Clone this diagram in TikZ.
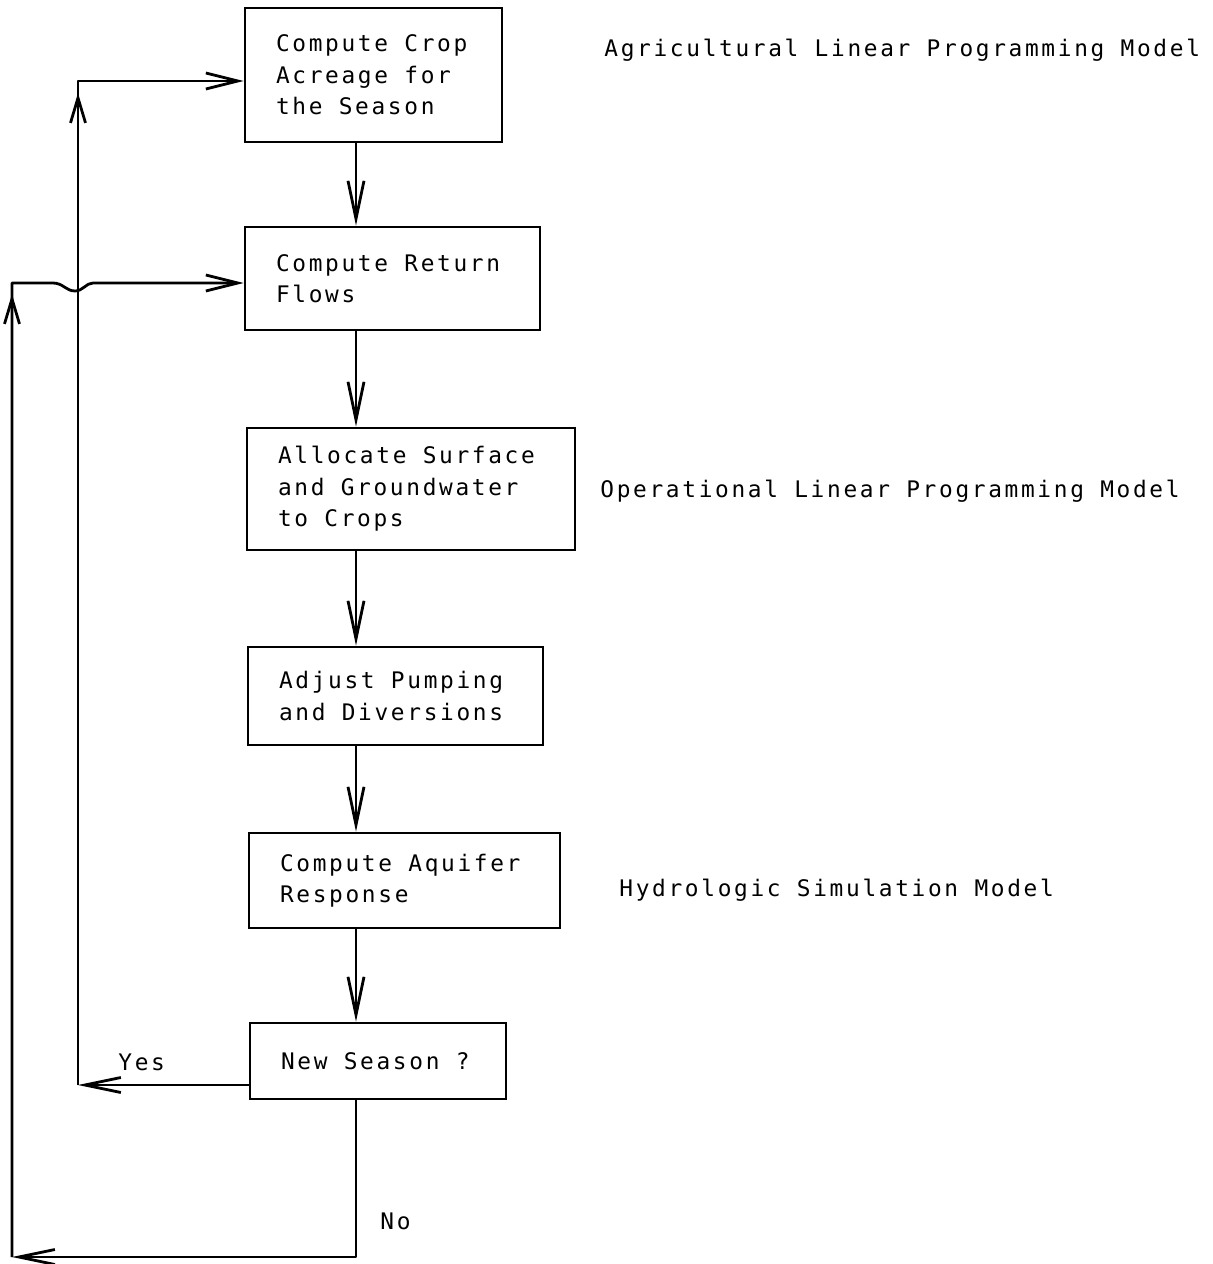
\documentclass[tikz,border=0pt]{standalone}
\usepackage{fontspec}
\newfontfamily\typefont[LetterSpace=11.7,WordSpace=1.19]{DejaVu Sans Mono}
\usetikzlibrary{arrows.meta,calc}
% typewriter face with rigid one-cell word spaces
\newcommand\flowfont{\typefont\fontsize{11.4pt}{15.75pt}\selectfont}
\newskip\flowspace
\flowspace=8.15pt

\begin{document}
% one unit = one pixel of the 1213 x 1264 sheet, y growing downwards
\begin{tikzpicture}[x=0.5pt,y=-0.5pt,
  txt/.style={font=\flowfont, execute at begin node={\spaceskip=\flowspace}},
  stage/.style={txt, draw, line width=1.4pt, inner xsep=15.5pt, inner ysep=0pt,
                align=left, anchor=center},
  note/.style={txt, inner sep=0pt, anchor=base west},
  flow/.style={line width=1.4pt, line join=round},
  downtip/.style={-{Straight Barb[length=19pt,width=8pt]}},
  intotip/.style={-{Straight Barb[length=16pt,width=8pt]}},
  backtip/.style={-{Straight Barb[length=18pt,width=7.5pt]}},
  uptip/.style={-{Straight Barb[length=12.5pt,width=7.5pt]}}]

\useasboundingbox (0,0) rectangle (1213,1264);

% process boxes
\node[stage, text width=97.5pt,  minimum height=67pt]   (crop)   at (373.5,75)
  {Compute Crop\\Acreage for\\the Season};
\node[stage, text width=116.5pt, minimum height=51.5pt] (ret)    at (392.5,278.5)
  {Compute Return\\Flows};
\node[stage, text width=133pt,   minimum height=61pt]   (alloc)  at (411,489)
  {Allocate Surface\\and Groundwater\\to Crops};
\node[stage, text width=116.5pt, minimum height=49pt]   (pump)   at (395.5,696)
  {Adjust Pumping\\and Diversions};
\node[stage, text width=124.5pt, minimum height=47.5pt] (aquif)  at (404.5,880.5)
  {Compute Aquifer\\Response};
\node[stage, text width=97pt,    minimum height=38pt]   (season) at (378,1061)
  {New Season ?};

% model names at the right
\node[note] (agri) at (604,56)  {Agricultural Linear Programming Model};
\node[note] (oper) at (600,497) {Operational Linear Programming Model};
\node[note] (hydro) at (619,896) {Hydrologic Simulation Model};

% branch labels
\node[note] (yes) at (118,1070) {Yes};
\node[note] (no)  at (380,1229) {No};

% routing points
\coordinate (spine)     at (356,0);
\coordinate (yescorner) at (78,1085);
\coordinate (topcorner) at (78,81);
\coordinate (nobottom)  at (356,1257);
\coordinate (outcorner) at (12,1257);
\coordinate (retcorner) at (12,283);
\coordinate (hopL)      at (53,283);
\coordinate (hopM)      at (75,291);
\coordinate (hopR)      at (93,283);

% main sequence
\draw[flow,downtip] (crop.south -| spine)  -- (ret.north -| spine);
\draw[flow,downtip] (ret.south -| spine)   -- (alloc.north -| spine);
\draw[flow,downtip] (alloc.south -| spine) -- (pump.north -| spine);
\draw[flow,downtip] (pump.south -| spine)  -- (aquif.north -| spine);
\draw[flow,downtip] (aquif.south -| spine) -- (season.north -| spine);

% "Yes": back to the crop acreage
\draw[flow,backtip] (season.west |- yescorner) -- (yescorner);
\draw[flow,intotip] (yescorner) -- (topcorner) -- (crop.west |- topcorner);
\draw[flow,uptip] ($(topcorner)+(0,38)$) -- ($(topcorner)+(0,12)$);

% "No": back to the return flows, hopping over the inner line
\draw[flow,backtip] (season.south -| spine) -- (nobottom) -- (outcorner);
\draw[flow,intotip] (outcorner) -- (retcorner) -- (hopL)
  .. controls (63,283) and (66,291) .. (hopM)
  .. controls (83,291) and (86,283) .. (hopR) -- (ret.west |- hopR);
\draw[flow,uptip] ($(retcorner)+(0,38)$) -- ($(retcorner)+(0,11)$);

\end{tikzpicture}
\end{document}
